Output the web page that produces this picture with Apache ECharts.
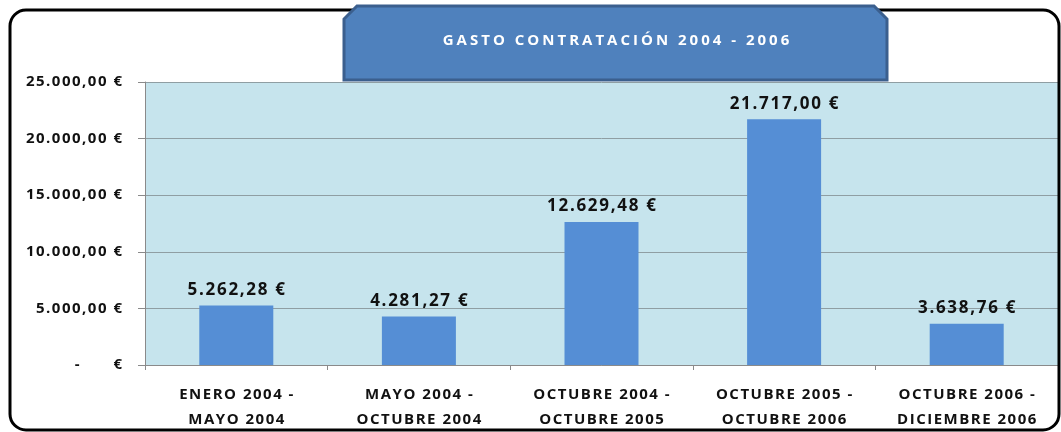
<!DOCTYPE html>
<html><head><meta charset="utf-8">
<script src="https://cdn.jsdelivr.net/npm/echarts@6/dist/echarts.min.js"></script>
<style>html,body{margin:0;padding:0;background:#fff}#c{width:1061px;height:432px}</style>
</head><body><div id="c"></div>
<script>
const categories = ["ENERO 2004 -\nMAYO 2004","MAYO 2004 -\nOCTUBRE 2004","OCTUBRE 2004 -\nOCTUBRE 2005","OCTUBRE 2005 -\nOCTUBRE 2006","OCTUBRE 2006 -\nDICIEMBRE 2006"];
const values = [5262.28, 4281.27, 12629.48, 21717.00, 3638.76];
const titleText = "GASTO CONTRATACIÓN 2004 - 2006";
const yTicks = [0, 5000, 10000, 15000, 20000, 25000];

function spaced(s, sp){ return s.split('\n').map(l => l.split('').join(sp)).join('\n'); }
function fmt(v){
  if (v === 0) return "-      €";
  const parts = v.toFixed(2).split(".");
  const intPart = parts[0].replace(/\B(?=(\d{3})+(?!\d))/g, ".");
  return intPart + "," + parts[1] + " €";
}
const HS = '\u200A';
const FONT = "'Open Sans', 'Noto Sans', sans-serif";
const chart = echarts.init(document.getElementById('c'), null, {renderer:'canvas'});
chart.setOption({
  animation:false,
  backgroundColor:'#fff',
  grid:{left:145, right:3, top:82, bottom:65, show:true, backgroundColor:'#c6e4ed', borderWidth:0},
  xAxis:{type:'category', data:categories,
    axisLine:{show:true, lineStyle:{color:'#8a8a8a', width:1}},
    axisTick:{show:true, length:5, lineStyle:{color:'#8a8a8a'}},
    axisLabel:{interval:0, formatter:v=>spaced(v, HS), color:'#111', fontFamily:FONT, fontWeight:'bold', fontSize:15, lineHeight:25, margin:17}},
  yAxis:{type:'value', min:yTicks[0], max:yTicks[yTicks.length-1], interval:5000,
    axisLine:{show:true, lineStyle:{color:'#8a8a8a'}},
    axisTick:{show:true, length:7, lineStyle:{color:'#8a8a8a'}},
    splitLine:{show:true, lineStyle:{color:'#8f9ea3', width:1}},
    axisLabel:{formatter:v=>spaced(fmt(v), HS), color:'#111', fontFamily:FONT, fontWeight:'bold', fontSize:15, margin:23}},
  series:[{type:'bar', data:values, barWidth:74,
    itemStyle:{color:'#558ed5'},
    label:{show:true, position:'top', distance:7, formatter:p=>spaced(fmt(p.value), HS), color:'#111', fontFamily:FONT, fontWeight:'bold', fontSize:17}}],
  graphic:[
    {type:'rect', z:100, silent:true, shape:{x:10, y:10, width:1049, height:420, r:16},
      style:{fill:null, stroke:'#000', lineWidth:3}},
    {type:'polygon', z:101, silent:true, shape:{points:[[344,80],[344,19],[357,6],[874,6],[887,19],[887,80]]},
      style:{fill:'#4f81bd', stroke:'#3b5f8e', lineWidth:3}},
    {type:'text', z:102, silent:true, style:{text:spaced(titleText, HS+HS), x:616, y:41, fill:'#fff', font:"bold 15px " + FONT, align:'center', verticalAlign:'middle'}}
  ]
});
</script></body></html>
